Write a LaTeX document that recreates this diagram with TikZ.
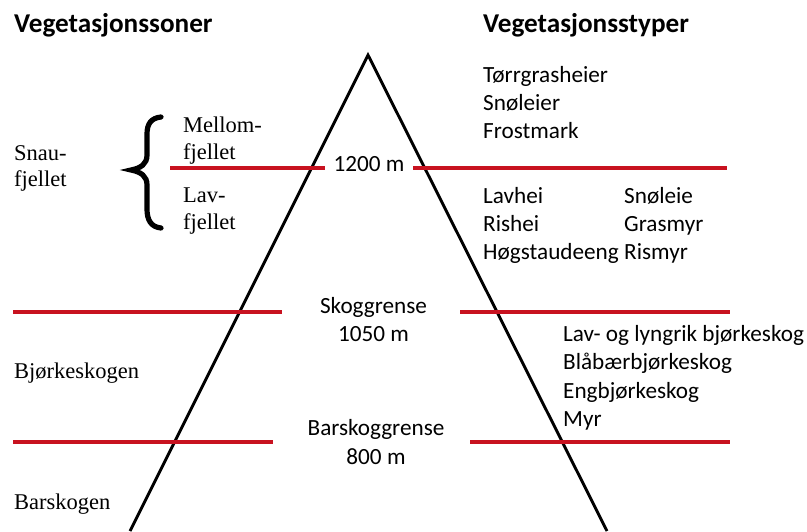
\documentclass[tikz,border=0pt]{standalone}
\usepackage{fontspec}
\setmainfont{Liberation Serif}
\newfontfamily\calibri{Carlito}
\usepackage{tikz}
\usetikzlibrary{positioning}
\definecolor{limitred}{RGB}{200,18,32}
\tikzset{
  zone/.style={font=\fontsize{22.5}{28}\selectfont, anchor=base west, inner sep=0pt},
  vtype/.style={font=\calibri\fontsize{23.2}{28}\selectfont, anchor=base west, inner sep=0pt},
  height/.style={font=\calibri\fontsize{23.2}{28}\selectfont, anchor=base, inner sep=0pt},
  heading/.style={font=\calibri\bfseries\fontsize{27.2}{32}\selectfont, anchor=base west, inner sep=0pt},
  limit/.style={limitred, line width=3.4pt},
}

\begin{document}
\begin{tikzpicture}[x=1pt, y=-1pt]
\useasboundingbox (0,0) rectangle (807,531);
\coordinate (peak) at (368,55);
\coordinate (footL) at (130,531);
\coordinate (footR) at (607,531);
\draw [line width=2.9pt, line join=miter] (footL)--(peak)--(footR);
% height limits
\draw [limit] (170,168)--(325,168) (413,168)--(727,168);
\draw [limit] (13,312)--(282,312) (460,312)--(730,312);
\draw [limit] (13,442)--(273,442) (470,442)--(730,442);
\node [height] (h1200) at (369,171) {1200 m};
\node [height] (skog) at (373.5,313) {Skoggrense};
\node [height] (h1050) at (373.5,341.5) {1050 m};
\node [height] (barskog) at (376,435) {Barskoggrense};
\node [height] (h800) at (376,464) {800 m};
% headings
\node [heading] (soner) at (14,32) {Vegetasjonssoner};
\node [heading] (typer) at (483,32) {Vegetasjonsstyper};
% zones
\node [zone] (snau) at (14,160) {Snau-};
\node [zone] (snauf) at (14,186) {fjellet};
\node [zone] (mellom) at (183,132) {Mellom-};
\node [zone] (mellomf) at (183,159) {fjellet};
\node [zone] (lav) at (183,202) {Lav-};
\node [zone] (lavf) at (183,229) {fjellet};
\node [zone] (bjork) at (14,378) {Bjørkeskogen};
\node [zone] (bar) at (14,509) {Barskogen};
\draw [line width=5.2pt, line cap=round] (161,117) .. controls (151,118) and (147,124) .. (147,134)
  -- (147,155) .. controls (147,164) and (141,168) .. (131,170)
  .. controls (141,172) and (147,176) .. (147,185) -- (147,209)
  .. controls (147,220) and (151,227) .. (161,228);
% vegetation types
\foreach \txt [count=\i] in {Tørrgrasheier, Snøleier, Frostmark}
  \node [vtype] (high\i) at (483,54+28*\i) {\txt};
\foreach \a/\b [count=\i] in {Lavhei/Snøleie, Rishei/Grasmyr, Høgstaudeeng/Rismyr} {
  \node [vtype] (mid\i) at (483,175+28*\i) {\a};
  \node [vtype] (midr\i) at (624,175+28*\i) {\b};
}
\foreach \txt [count=\i] in {Lav- og lyngrik bjørkeskog, Blåbærbjørkeskog, Engbjørkeskog, Myr}
  \node [vtype] (low\i) at (563,312.5+28.5*\i) {\txt};
\end{tikzpicture}
\end{document}
